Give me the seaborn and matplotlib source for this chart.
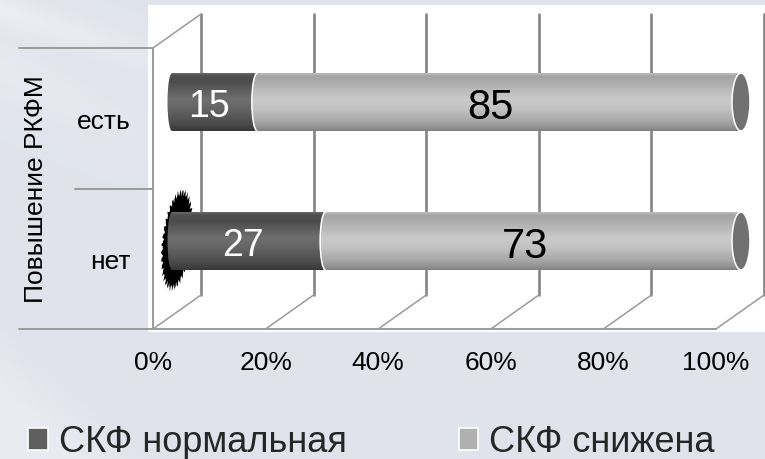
import numpy as np
import pandas as pd
import matplotlib
matplotlib.use("Agg")
import matplotlib.pyplot as plt
import matplotlib.transforms as mtransforms
import seaborn as sns
from matplotlib.patches import Ellipse, Rectangle, Arc, Patch, Polygon
from matplotlib.lines import Line2D

# ---- data -------------------------------------------------------------
categories = ["есть", "нет"]
gfr_normal = [15, 27]
gfr_reduced = [85, 73]
x_ticks = [0, 20, 40, 60, 80, 100]
x_tick_labels = ["0%", "20%", "40%", "60%", "80%", "100%"]
series_names = ["СКФ нормальная", "СКФ снижена"]
axis_title = "Повышение РКФМ"

# ---- style ------------------------------------------------------------
sns.set_theme(style="white")
plt.rcParams["font.family"] = ["Liberation Sans", "DejaVu Sans"]

W, H = 765, 460
fig = plt.figure(figsize=(W / 100, H / 100), dpi=100)


def box(left, top, right, bottom):
    """Axes rectangle from pixel edges (origin at top-left)."""
    return [left / W, 1 - bottom / H, (right - left) / W, (bottom - top) / H]


GRID = "#9a9a9a"
BACK_GRID = "#858585"

# ---- slide background + white chart panel ----------------------------
bg = fig.add_axes([0, 0, 1, 1], zorder=0)
bg.set_axis_off()
yy, xx = np.mgrid[0:H, 0:W].astype(float)
base = np.array([0.882, 0.894, 0.929])
streak1 = np.exp(-((yy - 0.32 * xx - 10) / 18) ** 2) * np.clip(1 - xx / 260, 0, 1)
streak2 = np.exp(-((yy - 0.45 * xx - 70) / 30) ** 2) * np.clip(1 - xx / 200, 0, 1)
streak3 = np.clip((yy - 0.9 * xx - 330) / 60, 0, 1) * 0.6
glow = np.clip(streak1 * 0.8 + streak2 * 0.5 + streak3, 0, 1)[..., None]
bg_img = base * (1 - 0.45 * glow) + 1.0 * 0.45 * glow
bg.imshow(bg_img, extent=(0, W, H, 0), aspect="auto", interpolation="bilinear")
bg.add_patch(Rectangle((148, 6), W - 148, 327, facecolor="white", edgecolor="none"))
bg.set_xlim(0, W)
bg.set_ylim(H, 0)

# ---- back wall gridlines ---------------------------------------------
ax_back = fig.add_axes(box(201, 15, 764, 296), zorder=1)
ax_back.set_axis_off()
ax_back.patch.set_alpha(0)
for xv in x_ticks:
    ax_back.axvline(xv, color=BACK_GRID, lw=1.9, clip_on=False)
ax_back.set_xlim(0, 100)
ax_back.set_ylim(1.5, -0.5)

# ---- front axis plane -------------------------------------------------
ax = fig.add_axes(box(153, 49, 716, 330), zorder=2)
ax.patch.set_alpha(0)
for side in ["top", "right"]:
    ax.spines[side].set_visible(False)
for side in ["left", "bottom"]:
    ax.spines[side].set_color(GRID)
    ax.spines[side].set_linewidth(1.4)
ax.set_xticks(x_ticks, x_tick_labels)
ax.set_yticks(range(len(categories)), categories)
ax.tick_params(axis="x", direction="out", length=4, width=1.2, color=GRID,
               labelsize=19, pad=11, labelcolor="black")
ax.tick_params(axis="y", length=0, pad=16, labelsize=19, labelcolor="black")
ax.set_ylabel(axis_title, fontsize=19, color="black")
ax.yaxis.set_label_coords(-0.207, 0.5)
ax.yaxis.label.set_va("center")

# long category separators reaching into the label column
sep_y = [-0.5, 0.5, 1.5]
sep_reach = [-0.238, -0.139, -0.238]
for yv, reach in zip(sep_y, sep_reach):
    ax.plot([reach, 0], [yv, yv], color=GRID, lw=1.4, clip_on=False,
            transform=ax.get_yaxis_transform())
ax.set_xlim(0, 100)
ax.set_ylim(1.5, -0.5)

# depth edges joining front plane to back wall
to_fig = fig.transFigure.inverted()


def depth_edge(xv, yv):
    p0 = to_fig.transform(ax.transData.transform((xv, yv)))
    p1 = to_fig.transform(ax_back.transData.transform((xv, yv)))
    fig.add_artist(Line2D([p0[0], p1[0]], [p0[1], p1[1]], color=GRID, lw=1.1,
                          transform=fig.transFigure, zorder=1.5))


for xv in x_ticks:
    depth_edge(xv, 1.5)
depth_edge(0, -0.5)

# ---- cylinder bars ----------------------------------------------------
PX_X = 569 / 100.0  # pixels per percent in the bar plane
MARGIN = 4.0        # extra percent on both sides so the end caps are not clipped
ax_bar = fig.add_axes(box(172 - MARGIN * PX_X, 33.5, 741 + MARGIN * PX_X, 311.5), zorder=5)
ax_bar.patch.set_alpha(0)
BAR_H = 0.417

df = pd.DataFrame({"category": categories, "normal": gfr_normal, "reduced": gfr_reduced})
df["total"] = df["normal"] + df["reduced"]

DARK = "#5e5e5e"
LIGHT = "#b4b4b4"
sns.barplot(data=df, y="category", x="total", orient="h", color=LIGHT,
            width=BAR_H, ax=ax_bar, saturation=1)
sns.barplot(data=df, y="category", x="normal", orient="h", color=DARK,
            width=BAR_H, ax=ax_bar, saturation=1)

dark_stops = [(0.0, "#6a6a6a"), (0.04, "#505050"), (0.15, "#4c4c4c"), (0.45, "#6f6f6f"),
              (0.62, "#646464"), (0.85, "#4d4d4d"), (1.0, "#383838")]
light_stops = [(0.0, "#bdbdbd"), (0.05, "#a4a4a4"), (0.15, "#acacac"), (0.45, "#cacaca"),
               (0.62, "#c2c2c2"), (0.82, "#a9a9a9"), (0.95, "#909090"), (1.0, "#808080")]


def gradient(stops):
    t = np.linspace(0, 1, 96)
    pos = [s[0] for s in stops]
    rgb = np.array([matplotlib.colors.to_rgb(s[1]) for s in stops])
    cols = np.stack([np.interp(t, pos, rgb[:, i]) for i in range(3)], axis=1)
    return cols[:, None, :]


def shade(clip, x0, x1, yc, stops, z):
    im = ax_bar.imshow(gradient(stops), extent=(x0, x1, yc + BAR_H / 2, yc - BAR_H / 2),
                       aspect="auto", interpolation="bilinear", zorder=z)
    im.set_clip_path(clip)


light_bars = ax_bar.containers[0]
dark_bars = ax_bar.containers[1]

for row, lp, dp in zip(df.itertuples(), light_bars, dark_bars):
    yc = lp.get_y() + lp.get_height() / 2
    total = lp.get_width()
    split = dp.get_width()
    lp.set_alpha(0)
    dp.set_alpha(0)

    # light body
    shade(lp, 0, total, yc, light_stops, 2)
    # rounded left end
    left_cap = Ellipse((0, yc), 9 / PX_X, BAR_H, facecolor="none", edgecolor="none")
    ax_bar.add_patch(left_cap)
    shade(left_cap, -6 / PX_X, 6 / PX_X, yc, dark_stops, 2.5)
    # dark body
    shade(dp, 0, split, yc, dark_stops, 3)
    # curved front face of the light segment at the split
    join = Ellipse((split, yc), 11 / PX_X, BAR_H, facecolor="none", edgecolor="none")
    ax_bar.add_patch(join)
    shade(join, split - 7 / PX_X, split + 7 / PX_X, yc, light_stops, 3.5)
    ax_bar.add_patch(Arc((split, yc), 11 / PX_X, BAR_H, theta1=90, theta2=270,
                         color="white", lw=1.1, zorder=3.6))
    # right end cap
    ax_bar.add_patch(Ellipse((total, yc), 18 / PX_X, BAR_H, facecolor="#717171",
                             edgecolor="white", lw=1.1, zorder=4))

    # value labels
    ax_bar.annotate(f"{row.normal}", (row.normal / 2, yc), xytext=(-4, -3),
                    textcoords="offset points", ha="center", va="center",
                    color="white", fontsize=27, zorder=6)
    ax_bar.annotate(f"{row.reduced}", (row.normal + row.reduced / 2, yc), xytext=(-6, -3.5),
                    textcoords="offset points", ha="center", va="center",
                    color="black", fontsize=30, zorder=6)

# dark ragged smudge behind the left end of the lower bar (pixel-space shape)
theta = np.linspace(0, 2 * np.pi, 240)
rag = 1 + 0.06 * np.sin(37 * theta) + 0.03 * np.sin(83 * theta)
sx = 14 * np.cos(theta) * rag
sy = 48 * np.sin(theta) * rag
tilt = np.deg2rad(-7)
px = 177 + sx * np.cos(tilt) - sy * np.sin(tilt)
py = (H - 241) + sx * np.sin(tilt) + sy * np.cos(tilt)
smudge = Polygon(np.column_stack([px, py]), closed=True, facecolor="black",
                 edgecolor="none", zorder=1, transform=mtransforms.IdentityTransform(),
                 clip_on=False)
ax_bar.add_patch(smudge)

ax_bar.set_axis_off()
ax_bar.set_xlim(-MARGIN, 100 + MARGIN)
ax_bar.set_ylim(1.5, -0.5)

# ---- legend -----------------------------------------------------------
handles = [Patch(facecolor="#5f5f5f", edgecolor="white", lw=1.2),
           Patch(facecolor="#b0b0b0", edgecolor="white", lw=1.2)]
fig.legend(handles, series_names, loc="center left", bbox_to_anchor=(28 / W, 1 - 443 / H),
           ncol=2, frameon=False, fontsize=26, handlelength=0.55, handleheight=0.55,
           handletextpad=0.3, columnspacing=3.1, borderpad=0, borderaxespad=0)

fig.savefig("out.png", dpi=100)
